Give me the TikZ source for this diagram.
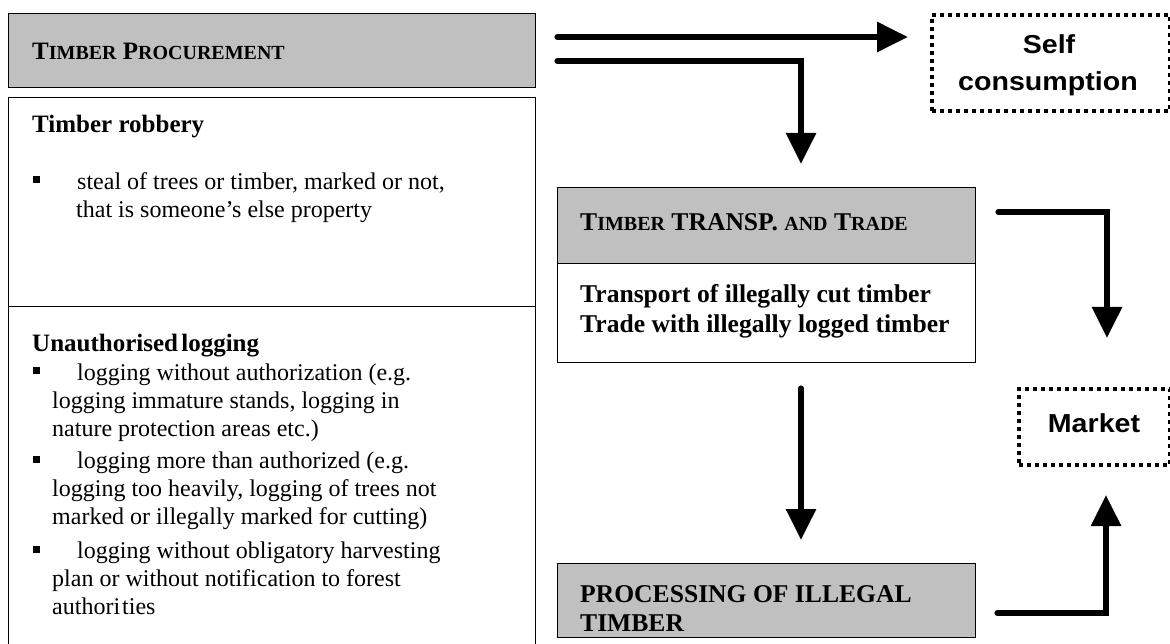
\documentclass[tikz,border=0pt]{standalone}
\usepackage{fontspec}
\usepackage{graphicx}
\setmainfont{Liberation Serif}
\setsansfont{Liberation Sans}
\usetikzlibrary{arrows.meta,calc}
\definecolor{boxgray}{HTML}{C0C0C0}
\newcommand{\smallcp}[1]{{\fontsize{20}{22}\selectfont #1}}
\newcommand{\wideword}[1]{\scalebox{1.1}[1]{#1}}
\begin{document}
\begin{tikzpicture}[x=1pt,y=-1pt,
  box/.style={draw=black, line width=1.4pt, inner sep=0pt, anchor=north west},
  graybox/.style={box, fill=boxgray},
  dotbox/.style={draw=black, line width=4pt, dash pattern=on 4pt off 4pt, inner sep=0pt, anchor=north west},
  flow/.style={line width=6pt, line cap=round, -{Triangle[width=29pt,length=31pt]}},
  txt/.style={anchor=base west, inner sep=0pt, font=\fontsize{24}{28}\selectfont},
  btxt/.style={txt, font=\fontsize{25}{28}\selectfont\bfseries},
  rtxt/.style={txt, font=\fontsize{25.6}{28}\selectfont\bfseries},
  stxt/.style={anchor=base, inner sep=0pt, font=\fontsize{26}{28}\selectfont\sffamily\bfseries},
  bullet/.style={fill=black, minimum size=7pt, inner sep=0pt}]
\useasboundingbox (0,0) rectangle (1170,644);

% boxes
\node[graybox, minimum width=527pt, minimum height=74pt] (proc) at (8,13) {};
\node[box, minimum width=527pt, minimum height=209pt] (rob) at (8,97) {};
\node[box, minimum width=527pt, minimum height=345pt] (unauth) at (8,306) {};
\node[graybox, minimum width=418pt, minimum height=76pt] (transp) at (557,187) {};
\node[box, minimum width=418pt, minimum height=99pt] (transpw) at (557,263) {};
\node[graybox, minimum width=418pt, minimum height=74pt] (procg) at (557,563) {};
\node[dotbox, minimum width=238pt, minimum height=96pt] (self) at (930,13) {};
\node[dotbox, minimum width=151pt, minimum height=76pt] (market) at (1017,387) {};

% texts left
\node[btxt] (t1) at (32,60) {T\smallcp{IMBER} P\smallcp{ROCUREMENT}};
\node[btxt] (t2) at (32,133) {Timber robbery};
\node[bullet] (b0) at (36,180) {};
\node[txt] (t3) at (77,190) {steal of trees or timber, marked or not,};
\node[txt] (t4) at (76,218) {that is someone’s else property};
\node[btxt] (t5) at (32,352) {Unauthorised\hspace{-3pt} logging};
\node[bullet] (b1) at (36,370) {};
\node[txt] (t6) at (77,380) {logging without authorization (e.g.};
\node[txt] (t7) at (52,408) {logging immature stands, logging in};
\node[txt] (t8) at (52,436) {nature protection areas etc.)};
\node[bullet] (b2) at (36,459) {};
\node[txt] (t9) at (77,468) {logging more than authorized (e.g.};
\node[txt] (t10) at (52,496) {logging too heavily, logging of trees not};
\node[txt] (t11) at (52,524) {marked or illegally marked for cutting)};
\node[bullet] (b3) at (36,549) {};
\node[txt] (t12) at (77,558) {logging without obligatory harvesting};
\node[txt] (t13) at (52,586) {plan or without notification to forest};
\node[txt] (t14) at (52,614) {authori\hspace{2pt}ties};

% texts right
\node[rtxt] (r1) at (580,231) {T\smallcp{IMBER} TRANSP. \smallcp{AND} T\smallcp{RADE}};
\node[rtxt] (r2) at (580,303) {Transport of illegally cut timber};
\node[rtxt] (r3) at (580,332) {Trade with illegally logged timber};
\node[rtxt] (r4) at (580,602) {PROCESSING OF ILLEGAL};
\node[rtxt] (r5) at (580,631) {TIMBER};
\node[stxt] (s1) at (1049,54) {\wideword{Self}};
\node[stxt] (s2) at (1048,91) {\wideword{consumption}};
\node[stxt] (m1) at (1094,432) {\wideword{Market}};

% connectors
\draw[flow] ($(proc.north east)+(21,24)$) -- ($(self.north west)+(-22,24)$);
\draw[flow] ($(proc.north east)+(21,48)$) -| ($(transp.north west)+(244,-23)$);
\draw[flow] ($(transp.north east)+(22,25)$) -| ($(market.north west)+(90,-49)$);
\draw[flow] ($(transpw.south west)+(244,25)$) -- ($(procg.north west)+(244,-23)$);
\draw[flow] ($(procg.north east)+(21,50)$) -| ($(market.south west)+(89,28)$);
\end{tikzpicture}
\end{document}
